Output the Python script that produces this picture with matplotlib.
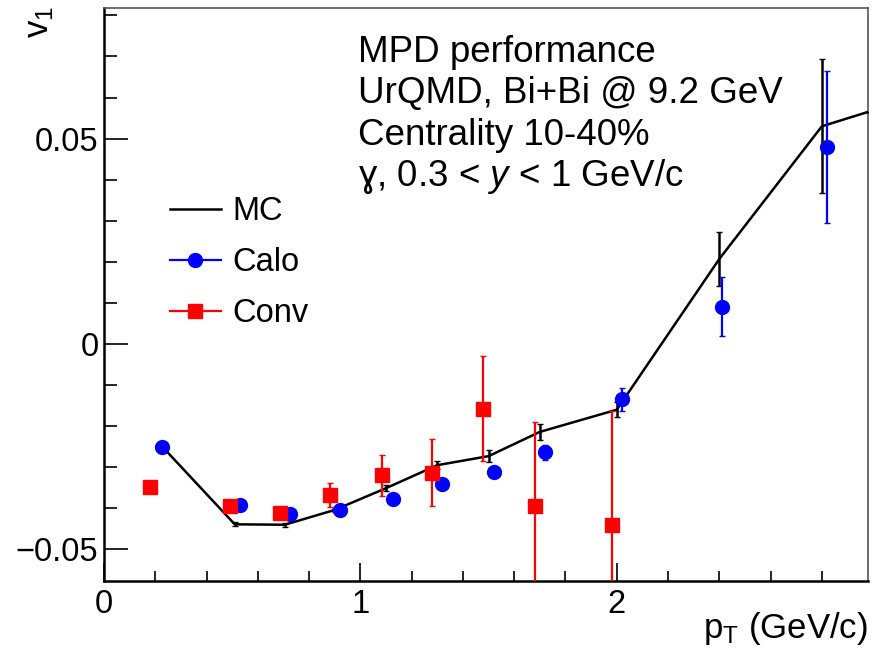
import matplotlib
matplotlib.use("Agg")
from matplotlib import pyplot as plt
from matplotlib.lines import Line2D
from matplotlib.ticker import MultipleLocator

plt.rcParams["font.family"] = ["Liberation Sans", "DejaVu Sans"]
plt.rcParams["mathtext.fontset"] = "custom"
plt.rcParams["mathtext.rm"] = "Liberation Sans"
plt.rcParams["mathtext.it"] = "Liberation Sans:italic"

# MC (true) v1 vs pT
mc_pt = [0.232, 0.51, 0.705, 0.90, 1.10, 1.30, 1.50, 1.70, 2.00, 2.40, 2.80, 2.98]
mc_v1 = [-0.0253, -0.0439, -0.0440, -0.0404, -0.0351, -0.0295, -0.0273, -0.0214, -0.0160, 0.0207, 0.0530, 0.0565]
mc_err = [0.001, 0.0005, 0.0005, 0.0005, 0.0008, 0.001, 0.0015, 0.002, 0.0018, 0.0066, 0.0163, 0.0]

# calorimeter photons
calo_pt = [0.227, 0.53, 0.727, 0.92, 1.126, 1.32, 1.52, 1.72, 2.02, 2.41, 2.82]
calo_v1 = [-0.0251, -0.0392, -0.0414, -0.0404, -0.0377, -0.0340, -0.0311, -0.0264, -0.0134, 0.0091, 0.0480]
calo_err = [0.0008, 0.0008, 0.0008, 0.0008, 0.0008, 0.0008, 0.0008, 0.0018, 0.0028, 0.0072, 0.0185]

# conversion photons
conv_pt = [0.18, 0.49, 0.685, 0.883, 1.085, 1.28, 1.48, 1.68, 1.98]
conv_v1 = [-0.0347, -0.0394, -0.0411, -0.0367, -0.0320, -0.0313, -0.0158, -0.0394, -0.0440]
conv_err = [0.0008, 0.0008, 0.0010, 0.0029, 0.0050, 0.0082, 0.0128, 0.0205, 0.0278]

fig = plt.figure(figsize=(8.86, 6.54), dpi=100)
ax = fig.add_axes([104 / 886, 1 - 581 / 654, (868 - 104) / 886, (581 - 8) / 654])

ax.errorbar(mc_pt, mc_v1, yerr=mc_err, color="black", lw=1.8, capsize=2, elinewidth=1.8, zorder=3)
ax.errorbar(calo_pt, calo_v1, yerr=calo_err, fmt="o", color="blue", ms=10, capsize=2, elinewidth=1.6, zorder=4)
ax.errorbar(conv_pt, conv_v1, yerr=conv_err, fmt="s", color="red", ms=10, capsize=2, elinewidth=1.6, zorder=4)

ax.set_xlim(0, 2.98)
ax.set_ylim(-0.0577, 0.0818)

ax.xaxis.set_major_locator(MultipleLocator(1))
ax.xaxis.set_minor_locator(MultipleLocator(0.2))
ax.yaxis.set_major_locator(MultipleLocator(0.05))
ax.yaxis.set_minor_locator(MultipleLocator(0.01))
ax.xaxis.set_major_formatter(plt.FuncFormatter(lambda v, p: f"{v:g}"))
ax.yaxis.set_major_formatter(plt.FuncFormatter(lambda v, p: "0" if abs(v) < 1e-9 else f"{v:.2f}".replace("-", "\u2212")))

ax.tick_params(which="both", direction="in", top=False, right=False, labelsize=23.5, width=1.2)
ax.tick_params(axis="y", which="major", length=17, pad=4)
ax.tick_params(axis="y", which="minor", length=9)
ax.tick_params(axis="x", which="major", length=13, pad=6)
ax.tick_params(axis="x", which="minor", length=7)
for side in ["left", "bottom"]:
    ax.spines[side].set_linewidth(1.8)
for side in ["top", "right"]:
    ax.spines[side].set_linewidth(1.2)
    ax.spines[side].set_color("#555555")

fig.text(40 / 886, 1 - 22 / 654, "v$_1$", fontsize=25, rotation=90, ha="center", va="center")
fig.text(868 / 886, 1 - 638 / 654, "p$_\\mathregular{T}$ (GeV/c)", fontsize=25, ha="right", va="baseline")

lines = ["MPD performance", "UrQMD, Bi+Bi @ 9.2 GeV", "Centrality 10-40%", "\u0263, 0.3 < $y$ < 1 GeV/c"]
baselines = [62, 103, 145, 186]
for txt, b in zip(lines, baselines):
    fig.text(358 / 886, 1 - b / 654, txt, fontsize=26.5, ha="left", va="baseline")

handles = [
    Line2D([], [], color="black", lw=1.8),
    Line2D([], [], color="blue", lw=1.6, marker="o", ms=10),
    Line2D([], [], color="red", lw=1.6, marker="s", ms=10),
]
ax.legend(handles, ["MC", "Calo", "Conv"], loc="upper left", bbox_to_anchor=(170 / 886, 1 - 196 / 654),
          bbox_transform=fig.transFigure, frameon=False, fontsize=23.5, handlelength=1.55,
          handletextpad=0.35, labelspacing=0.62, borderpad=0, borderaxespad=0)

fig.savefig("out.png", dpi=100)
